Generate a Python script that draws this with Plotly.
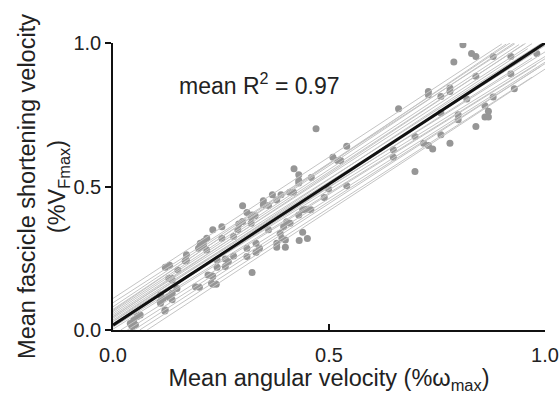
import plotly.graph_objects as go

# Individual subject data points (angular velocity, fascicle velocity)
pt_x = [0.810, 0.789, 0.830, 0.840, 0.880, 0.921, 0.981, 0.840, 0.921, 0.929,
        0.730, 0.730, 0.780, 0.780, 0.759, 0.819, 0.880, 0.861, 0.869, 0.861,
        0.869, 0.799, 0.799, 0.840, 0.759, 0.661, 0.759, 0.780, 0.719, 0.730,
        0.740, 0.699, 0.649, 0.649, 0.699, 0.470, 0.541, 0.509, 0.520, 0.527,
        0.541, 0.499, 0.489, 0.419, 0.430, 0.430, 0.430, 0.459, 0.409, 0.418,
        0.389, 0.369, 0.379, 0.348, 0.348, 0.360, 0.300, 0.310, 0.322, 0.329,
        0.291, 0.300, 0.252, 0.231, 0.252, 0.217, 0.210, 0.210, 0.217, 0.170,
        0.121, 0.131, 0.150, 0.129, 0.137, 0.110, 0.121, 0.129, 0.137, 0.191,
        0.200, 0.231, 0.239, 0.231, 0.241, 0.260, 0.267, 0.260, 0.279, 0.310,
        0.310, 0.322, 0.331, 0.331, 0.339, 0.360, 0.379, 0.379, 0.399, 0.399,
        0.391, 0.387, 0.431, 0.439, 0.450, 0.395, 0.402, 0.410, 0.439, 0.448,
        0.458, 0.430, 0.320, 0.320, 0.279, 0.289, 0.241, 0.198, 0.202, 0.170,
        0.040, 0.048, 0.056, 0.063, 0.044, 0.052, 0.110, 0.137, 0.148, 0.167,
        0.120, 0.109, 0.116, 0.136, 0.228, 0.220, 0.229]
pt_y = [0.994, 0.934, 0.963, 0.953, 0.953, 0.953, 0.963, 0.884, 0.892, 0.841,
        0.831, 0.820, 0.843, 0.831, 0.814, 0.805, 0.812, 0.781, 0.762, 0.742,
        0.742, 0.750, 0.733, 0.709, 0.756, 0.771, 0.680, 0.651, 0.651, 0.643,
        0.631, 0.552, 0.628, 0.602, 0.674, 0.701, 0.640, 0.602, 0.591, 0.591,
        0.503, 0.491, 0.462, 0.562, 0.541, 0.521, 0.512, 0.531, 0.480, 0.480,
        0.471, 0.471, 0.453, 0.450, 0.436, 0.434, 0.433, 0.409, 0.401, 0.398,
        0.369, 0.378, 0.360, 0.349, 0.320, 0.320, 0.308, 0.291, 0.279, 0.242,
        0.219, 0.226, 0.209, 0.180, 0.174, 0.122, 0.070, 0.116, 0.105, 0.151,
        0.149, 0.159, 0.159, 0.186, 0.219, 0.221, 0.238, 0.247, 0.258, 0.285,
        0.256, 0.200, 0.302, 0.270, 0.285, 0.349, 0.288, 0.302, 0.288, 0.314,
        0.320, 0.337, 0.312, 0.341, 0.319, 0.360, 0.377, 0.372, 0.419, 0.421,
        0.419, 0.401, 0.372, 0.392, 0.326, 0.349, 0.244, 0.285, 0.302, 0.262,
        0.023, 0.035, 0.047, 0.052, 0.012, 0.017, 0.093, 0.128, 0.145, 0.240,
        0.066, 0.099, 0.110, 0.180, 0.164, 0.192, 0.189]

# Individual regression lines: intercept, slope, x-range
ln_a = [0.110, 0.095, 0.081, 0.072, 0.068, 0.064, 0.058, 0.052, 0.047, 0.045,
        0.041, 0.035, 0.030, 0.029, 0.023, 0.017, 0.010, 0.003, -0.017, -0.032,
        -0.047, -0.060, -0.078]
ln_b = [0.985, 0.970, 1.000, 1.000, 1.020, 0.990, 0.985, 0.975, 0.960, 1.000,
        0.950, 0.955, 0.990, 0.940, 0.930, 0.960, 0.935, 0.940, 0.950, 0.960,
        0.975, 0.970, 0.987]
ln_x0 = [0.0, 0.0, 0.0, 0.0, 0.0, 0.0, 0.0, 0.0, 0.0, 0.0,
         0.0, 0.0, 0.0, 0.0, 0.0, 0.0, 0.0, 0.0, 0.018, 0.033,
         0.048, 0.062, 0.079]
ln_x1 = [0.90, 0.93, 0.92, 0.93, 0.91, 0.94, 0.955, 0.97, 0.99, 0.95,
         1.0, 0.98, 0.96, 1.0, 1.0, 0.97, 1.0, 0.98, 1.0, 0.99,
         1.0, 0.97, 1.0]

# Mean regression
mean_a = 0.017
mean_b = 0.983

FONT = "Liberation Sans, Arial, sans-serif"

fig = go.Figure()
fig.add_trace(go.Scatter(x=pt_x, y=pt_y, mode="markers",
                         marker=dict(color="#969696", size=7, line=dict(width=0)),
                         showlegend=False, hoverinfo="skip"))
for a, b, x0, x1 in zip(ln_a, ln_b, ln_x0, ln_x1):
    fig.add_trace(go.Scatter(x=[x0, x1], y=[a + b * x0, a + b * x1], mode="lines",
                             line=dict(color="#c4c4c4", width=1),
                             showlegend=False, hoverinfo="skip"))
fig.add_trace(go.Scatter(x=[0, 1], y=[mean_a, mean_a + mean_b], mode="lines",
                         line=dict(color="#111111", width=3),
                         showlegend=False, hoverinfo="skip"))

fig.add_annotation(x=0.148, y=0.857, xref="x", yref="y", xanchor="left", yanchor="middle",
                   text="mean R<sup>2</sup> = 0.97", showarrow=False,
                   font=dict(family=FONT, size=23, color="#222222"))

fig.update_layout(
    width=560, height=394,
    margin=dict(l=113, r=15, t=43, b=64),
    paper_bgcolor="white", plot_bgcolor="white",
    font=dict(family=FONT, size=20, color="#222222"),
    xaxis=dict(range=[0, 1], tickvals=[0, 0.5, 1.0], ticktext=["0.0", "0.5", "1.0"],
               showline=True, linecolor="#111111", linewidth=1.5, mirror=False,
               ticks="inside", ticklen=6, tickwidth=1.5, tickcolor="#111111",
               showgrid=False, zeroline=False, ticklabelstandoff=6, automargin=False,
               title=dict(text="Mean angular velocity (%ω<sub>max</sub>)", standoff=2,
                          font=dict(size=23.5))),
    yaxis=dict(range=[0, 1], tickvals=[0, 0.5, 1.0], ticktext=["0.0", "0.5", "1.0"],
               showline=True, linecolor="#111111", linewidth=1.5, mirror=False,
               ticks="outside", ticklen=6, tickwidth=1.5, tickcolor="#111111",
               showgrid=False, zeroline=False, automargin=False,
               title=dict(text="Mean fascicle shortening velocity<br>(%V<sub>Fmax</sub>)",
                          standoff=0, font=dict(size=23.5))),
)

fig.write_html("out.html")
